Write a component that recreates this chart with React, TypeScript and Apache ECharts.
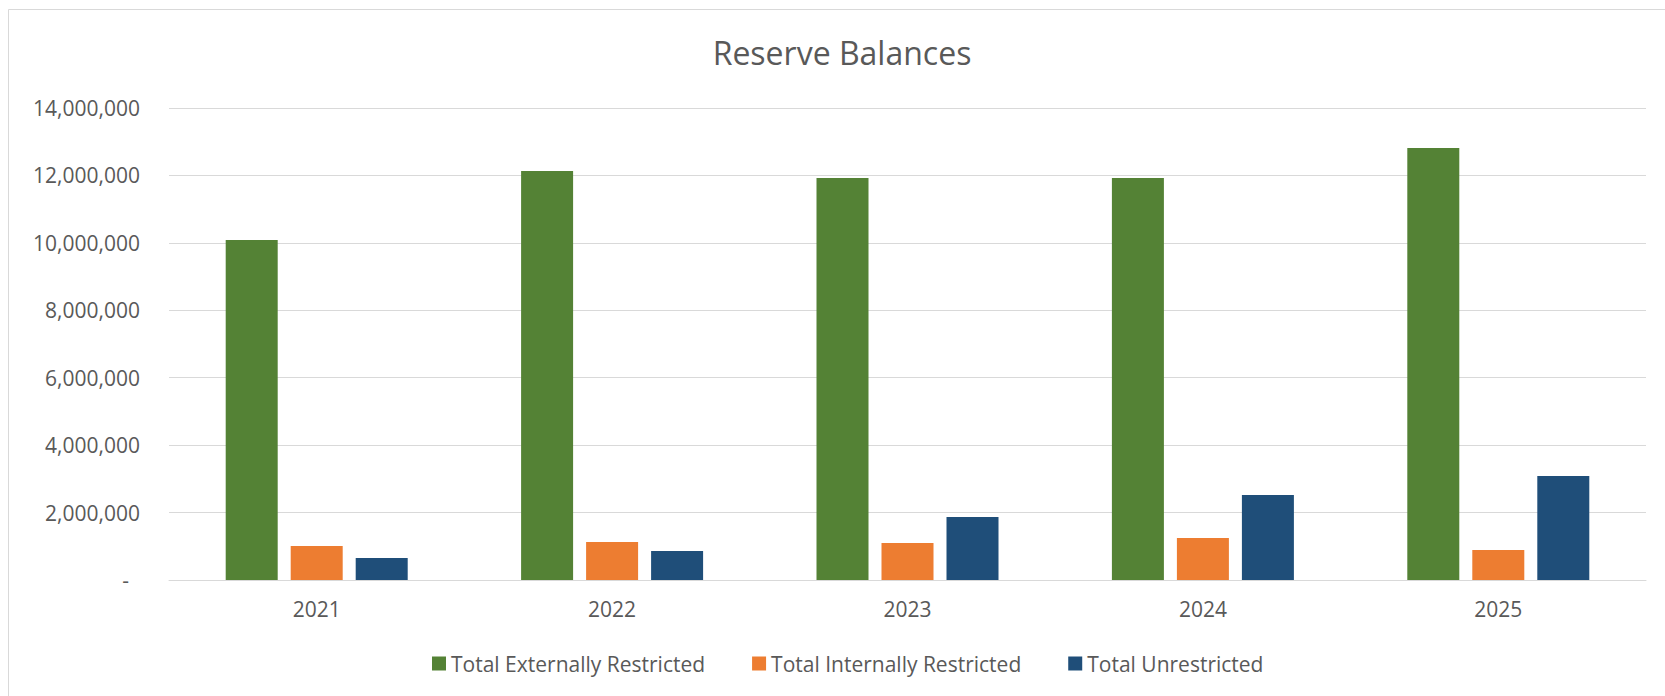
import React, { useEffect, useRef } from "react";
import * as echarts from "echarts";

const title = "Reserve Balances";
const years = ["2021", "2022", "2023", "2024", "2025"];
const seriesNames = [
  "Total Externally Restricted",
  "Total Internally Restricted",
  "Total Unrestricted",
];
const externallyRestricted = [10085000, 12130000, 11925000, 11925000, 12815000];
const internallyRestricted = [1008000, 1127000, 1097000, 1246000, 890000];
const unrestricted = [653000, 860000, 1869000, 2521000, 3085000];
const seriesColors = ["#548235", "#ED7D31", "#1F4E79"];
const yMin = 0;
const yMax = 14000000;
const yInterval = 2000000;

const FONT = "'Open Sans', sans-serif";
const TEXT = "#595959";
const LINE = "#d9d9d9";

export default function App() {
  const ref = useRef<HTMLDivElement>(null);
  useEffect(() => {
    if (!ref.current) return;
    const chart = echarts.init(ref.current, null, { renderer: "svg" });
    const data = [externallyRestricted, internallyRestricted, unrestricted];
    chart.setOption({
      animation: false,
      backgroundColor: "#ffffff",
      textStyle: { fontFamily: FONT },
      graphic: [
        {
          type: "rect",
          shape: { x: 8.5, y: 9.5, width: 1700, height: 720 },
          style: { fill: "none", stroke: LINE, lineWidth: 1 },
          silent: true,
        },
      ],
      title: {
        text: title,
        left: 837,
        top: 31,
        textAlign: "center",
        textStyle: {
          fontFamily: FONT,
          fontSize: 32,
          fontWeight: "normal",
          color: TEXT,
        },
      },
      legend: {
        left: 427,
        top: 648,
        itemWidth: 14,
        itemHeight: 14,
        itemGap: 47,
        icon: "rect",
        textStyle: { fontFamily: FONT, fontSize: 21, color: TEXT, padding: [0, 0, 0, 0] },
        data: seriesNames,
      },
      grid: { left: 169, right: 19, top: 108, bottom: 116, containLabel: false },
      xAxis: {
        type: "category",
        data: years,
        axisLine: { show: true, lineStyle: { color: LINE, width: 1 } },
        axisTick: { show: false },
        axisLabel: { fontFamily: FONT, fontSize: 21, color: TEXT, margin: 18 },
      },
      yAxis: {
        type: "value",
        min: yMin,
        max: yMax,
        interval: yInterval,
        axisLine: { show: false },
        axisTick: { show: false },
        splitLine: { lineStyle: { color: LINE, width: 1 } },
        axisLabel: {
          fontFamily: FONT,
          fontSize: 21,
          color: TEXT,
          margin: 29,
          formatter: (v: number) =>
            v === 0 ? "{d|-}" : v.toLocaleString("en-US"),
          rich: {
            d: { fontFamily: FONT, fontSize: 21, color: TEXT, padding: [0, 11, 0, 0] },
          },
        },
      },
      series: seriesNames.map((name, i) => ({
        name,
        type: "bar",
        data: data[i],
        barWidth: 52,
        barGap: "25%",
        itemStyle: { color: seriesColors[i] },
      })),
    });
    return () => chart.dispose();
  }, []);
  return (
    <div
      ref={ref}
      style={{ position: "fixed", left: 0, top: 0, width: 1665, height: 696 }}
    />
  );
}
